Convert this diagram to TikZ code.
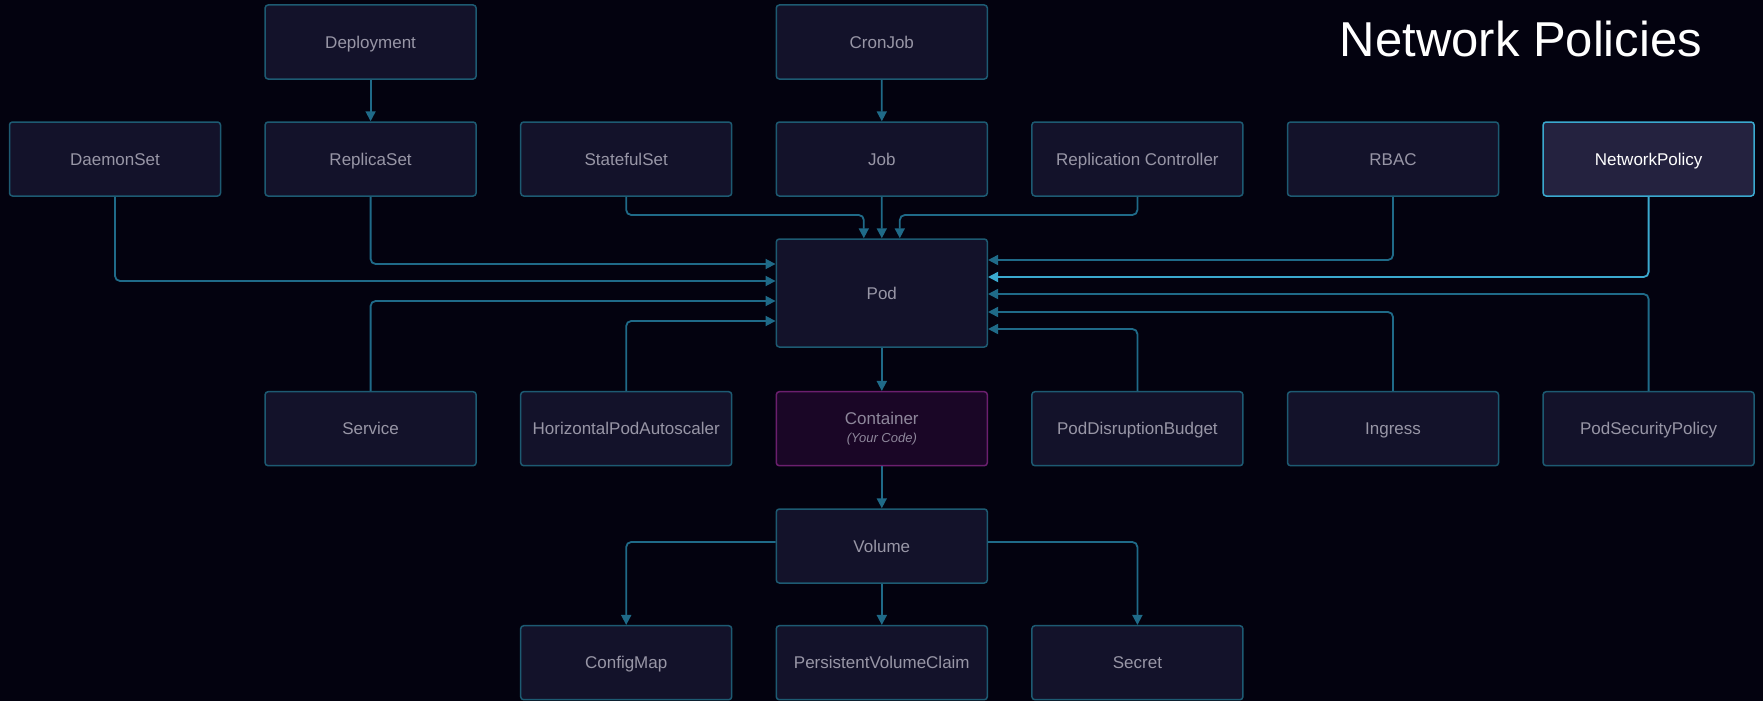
\documentclass[tikz,border=0pt]{standalone}
\usepackage{fontspec}
\setmainfont{Liberation Sans}
\usetikzlibrary{arrows.meta}

\definecolor{bgdark}{HTML}{03020F}
\definecolor{boxfill}{HTML}{13122A}
\definecolor{boxline}{HTML}{1D5A72}
\definecolor{boxtext}{HTML}{9896A6}
\definecolor{linkcol}{HTML}{1F6A88}
\definecolor{hifill}{HTML}{24223F}
\definecolor{hiline}{HTML}{3BA9CF}
\definecolor{ctrfill}{HTML}{1A0626}
\definecolor{ctrline}{HTML}{6B1F6E}
\definecolor{ctrtext}{HTML}{8E879B}

\tikzset{
  kbox/.style={rectangle, rounded corners=3pt, draw=boxline, fill=boxfill,
    line width=1.5pt, minimum width=211pt, minimum height=74pt, inner sep=0pt,
    text=boxtext, font=\fontsize{17}{20}\selectfont, text height=12.3pt, text depth=0pt},
  hibox/.style={kbox, draw=hiline, fill=hifill, text=white},
  ctrbox/.style={kbox, draw=ctrline, fill=ctrfill, text=ctrtext, align=center,
    text height=27pt, text depth=0pt},
  link/.style={draw=linkcol, line width=1.8pt, rounded corners=5pt,
    -{Triangle[width=10pt,length=10pt]}},
  hilink/.style={link, draw=hiline},
}

\begin{document}
\begin{tikzpicture}[x=1pt,y=-1pt]
  \fill[bgdark] (0,0) rectangle (1763,701);
  \useasboundingbox (0,0) rectangle (1763,701);

  \node[font=\fontsize{49}{55}\selectfont, text=white, inner sep=0pt] (title) at (1521,39) {Network Policies};

  % controllers on top
  \node[kbox] (deploy) at (370.6,42) {Deployment};
  \node[kbox] (cron) at (881.8,42) {CronJob};
  \foreach \name/\txt/\sty [count=\i from 0] in {ds/DaemonSet/kbox, rs/ReplicaSet/kbox,
      sts/StatefulSet/kbox, job/Job/kbox, rc/Replication Controller/kbox,
      rbac/RBAC/kbox, np/NetworkPolicy/hibox}
    \node[\sty] (\name) at (115+255.6*\i,159) {\txt};

  \node[kbox, minimum height=108pt] (pod) at (881.8,293) {Pod};

  % row under the pod
  \node[kbox] (svc) at (370.6,428.7) {Service};
  \node[kbox] (hpa) at (626.2,428.7) {HorizontalPodAutoscaler};
  \node[ctrbox] (ctr) at (881.8,428.7) {Container\\[-2pt]{\fontsize{13}{15}\selectfont\itshape (Your Code)}};
  \node[kbox] (pdb) at (1137.4,428.7) {PodDisruptionBudget};
  \node[kbox] (ing) at (1393,428.7) {Ingress};
  \node[kbox] (psp) at (1648.6,428.7) {PodSecurityPolicy};

  % storage
  \node[kbox] (vol) at (881.8,546) {Volume};
  \node[kbox] (cm) at (626.2,662.7) {ConfigMap};
  \node[kbox] (pvc) at (881.8,662.7) {PersistentVolumeClaim};
  \node[kbox] (sec) at (1137.4,662.7) {Secret};

  \coordinate (hub) at (0,215);

  \draw[link] (deploy) -- (rs);
  \draw[link] (cron) -- (job);
  \draw[link] (sts) -- (sts |- hub) -| ([xshift=-18pt]pod.north);
  \draw[link] (job) -- (pod);
  \draw[link] (rc) -- (rc |- hub) -| ([xshift=18pt]pod.north);

  % into the pod from the left
  \draw[link] (rs) |- ([yshift=29pt]pod.west);
  \draw[link] (ds) |- ([yshift=12pt]pod.west);
  \draw[link] (svc) |- ([yshift=-8pt]pod.west);
  \draw[link] (hpa) |- ([yshift=-28pt]pod.west);

  % into the pod from the right
  \draw[link] (rbac) |- ([yshift=33pt]pod.east);
  \draw[hilink] (np) |- ([yshift=16pt]pod.east);
  \draw[link] (psp) |- ([yshift=-1pt]pod.east);
  \draw[link] (ing) |- ([yshift=-19pt]pod.east);
  \draw[link] (pdb) |- ([yshift=-36pt]pod.east);

  \draw[link] (pod) -- (ctr);
  \draw[link] (ctr) -- (vol);
  \draw[link] ([yshift=4pt]vol.west) -| (cm);
  \draw[link] (vol) -- (pvc);
  \draw[link] ([yshift=4pt]vol.east) -| (sec);
\end{tikzpicture}
\end{document}
